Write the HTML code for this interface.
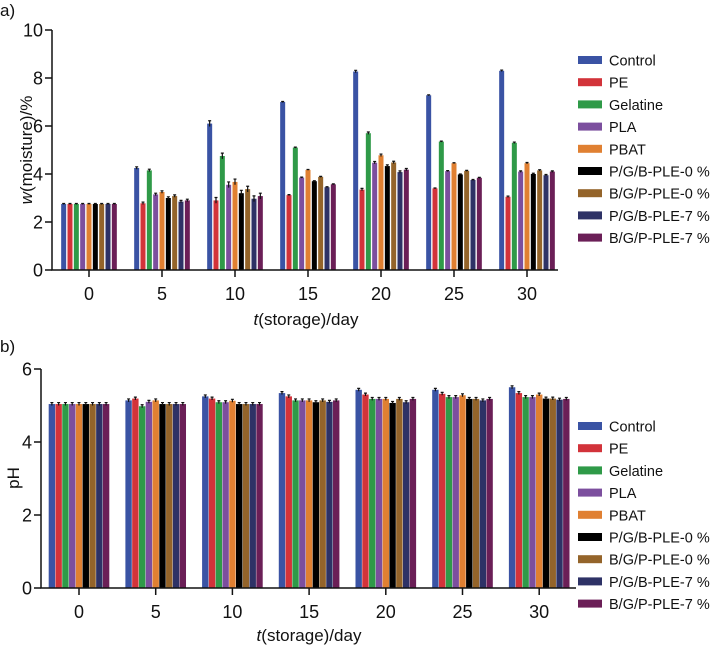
<!DOCTYPE html>
<html><head><meta charset="utf-8"><style>
body{margin:0;background:#fff}
svg{display:block;font-family:"Liberation Sans",Arial,sans-serif}
</style></head><body>
<svg id="c" width="717" height="647"></svg>
<script>
const categories=[0,5,10,15,20,25,30];
const seriesNames=["Control","PE","Gelatine","PLA","PBAT","P/G/B-PLE-0 %","B/G/P-PLE-0 %","P/G/B-PLE-7 %","B/G/P-PLE-7 %"];
const colors=["#3a53a4","#d2333a","#2f9a48","#7c4f9e","#e08032","#000000","#94642a","#2e3266","#6b1f57"];
const moistControl=[2.75,4.25,6.1,7.0,8.27,7.28,8.3];
const moistPE=[2.75,2.78,2.9,3.12,3.35,3.4,3.05];
const moistGel=[2.75,4.15,4.75,5.1,5.7,5.35,5.3];
const moistPLA=[2.75,3.15,3.55,3.85,4.47,4.12,4.1];
const moistPBAT=[2.75,3.25,3.67,4.17,4.78,4.45,4.45];
const moistPGB0=[2.75,3.0,3.2,3.7,4.33,3.98,4.0];
const moistBGP0=[2.75,3.08,3.37,3.88,4.48,4.13,4.15];
const moistPGB7=[2.75,2.85,2.97,3.45,4.08,3.75,3.95];
const moistBGP7=[2.75,2.9,3.08,3.57,4.18,3.84,4.1];
const moistErr=[0.02,0.05,0.12,0.02,0.05,0.02,0.03];
const phControl=[5.04,5.14,5.25,5.34,5.43,5.43,5.5];
const phPE=[5.04,5.19,5.19,5.25,5.3,5.32,5.34];
const phGel=[5.04,4.98,5.09,5.14,5.18,5.23,5.23];
const phPLA=[5.04,5.1,5.09,5.14,5.18,5.23,5.23];
const phPBAT=[5.04,5.14,5.13,5.14,5.18,5.28,5.3];
const phPGB0=[5.04,5.04,5.04,5.09,5.07,5.18,5.19];
const phBGP0=[5.04,5.04,5.04,5.14,5.18,5.18,5.19];
const phPGB7=[5.04,5.04,5.04,5.1,5.09,5.14,5.16];
const phBGP7=[5.04,5.04,5.04,5.14,5.18,5.18,5.18];
const moistTicks=[0,2,4,6,8,10];
const phTicks=[0,2,4,6];

const svg=document.getElementById('c');
const NS="http://www.w3.org/2000/svg";
function mk(t,a,txt){const e=document.createElementNS(NS,t);for(const k in a)e.setAttribute(k,a[k]);if(txt!==undefined)e.textContent=txt;svg.appendChild(e);return e;}

function drawChart(o){
  const yS=v=>o.y0-(v/o.ymax)*(o.y0-o.yTop);
  const xS=i=>o.x0c+i*o.step;
  const n=o.series.length;
  o.series.forEach((arr,s)=>{
    arr.forEach((v,i)=>{
      const cx=xS(i)-o.gw/2+(s+0.5)*o.gw/n;
      const r=mk('rect',{x:cx-o.bw/2,y:yS(v),width:o.bw,height:o.y0-yS(v),fill:colors[s]});
      
      
      const e=o.err[i];
      const eb=mk('path',{d:`M${cx} ${yS(v+e)}V${yS(v-e)}M${cx-1.5} ${yS(v+e)}H${cx+1.5}`,stroke:'#111','stroke-width':1.2,fill:'none'});
      
      
    });
  });
  const ax=mk('path',{d:`M${o.ax} ${o.yS_top}V${o.y0}H${o.axEnd}`,stroke:'#111','stroke-width':1.5,fill:'none'});
  
  
  o.ticks.forEach(t=>{
    const tk=mk('path',{d:`M${o.ax-7} ${yS(t)}H${o.ax}`,stroke:'#111','stroke-width':1.5});
    
    
    const lb=mk('text',{x:o.ax-9,y:yS(t)+6.5,'text-anchor':'end','font-size':18,fill:'#111'},t);
    
    
  });
  categories.forEach((c,i)=>{
    const tk=mk('path',{d:`M${xS(i)} ${o.y0}V${o.y0+7}`,stroke:'#111','stroke-width':1.5});
    
    
    const lb=mk('text',{x:xS(i),y:o.y0+30,'text-anchor':'middle','font-size':18,fill:'#111'},c);
    
    
  });
  seriesNames.forEach((nm,s)=>{
    const yy=o.legY+s*22.2;
    const sw=mk('rect',{x:578,y:yy-5,width:24,height:8,fill:colors[s]});
    
    
    const lt=mk('text',{x:609,y:yy+4.5,'font-size':14.5,fill:'#111'},nm);
    
    
  });
}
drawChart({id:'moisture',series:[moistControl,moistPE,moistGel,moistPLA,moistPBAT,moistPGB0,moistBGP0,moistPGB7,moistBGP7],err:moistErr,
  y0:270,yTop:30,ymax:10,yS_top:30,ax:52,axEnd:558,x0c:89,step:73,gw:57,bw:5,ticks:moistTicks,legY:61});
drawChart({id:'ph',series:[phControl,phPE,phGel,phPLA,phPBAT,phPGB0,phBGP0,phPGB7,phBGP7],err:[0.04,0.04,0.04,0.04,0.04,0.04,0.04],
  y0:588,yTop:369,ymax:6,yS_top:369,ax:41,axEnd:576,x0c:79,step:76.7,gw:61,bw:6.4,ticks:phTicks,legY:427});
</script>
<script>
(function(){
const svg=document.getElementById('c');const NS="http://www.w3.org/2000/svg";
function t(x,y,txt,name,extra){const e=document.createElementNS(NS,'text');e.setAttribute('x',x);e.setAttribute('y',y);e.setAttribute('fill','#111');
for(const k in (extra||{}))e.setAttribute(k,extra[k]);e.innerHTML=txt;svg.appendChild(e);}
t(0,16,'a)','panel-label-a',{'font-size':17});
t(0,352,'b)','panel-label-b',{'font-size':17});
t(32,150,'<tspan font-style="italic">w</tspan>(moisture)/%','y-axis-title-moisture',{'font-size':17,'text-anchor':'middle',transform:'rotate(-90 32 150)'});
t(19,478,'pH','y-axis-title-ph',{'font-size':17,'text-anchor':'middle',transform:'rotate(-90 19 478)'});
t(306,325,'<tspan font-style="italic">t</tspan>(storage)/day','x-axis-title-moisture',{'font-size':17,'text-anchor':'middle'});
t(309,641,'<tspan font-style="italic">t</tspan>(storage)/day','x-axis-title-ph',{'font-size':17,'text-anchor':'middle'});
})();
</script>
</body></html>
